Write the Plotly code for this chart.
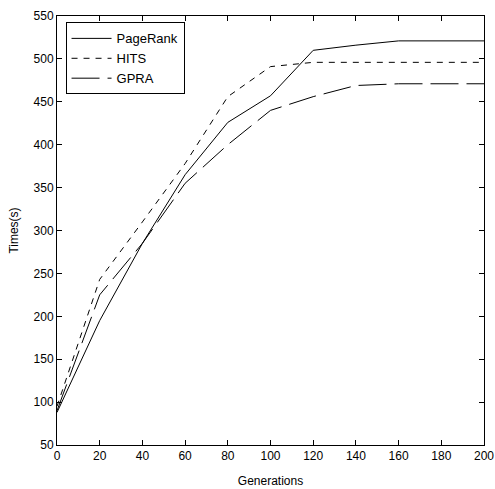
import plotly.graph_objects as go

generations = [0, 20, 40, 60, 80, 100, 120, 140, 160, 180, 200]
pagerank = [88, 195, 285, 365, 426, 457, 510, 516, 521, 521, 521]
hits = [95, 243, 310, 378, 456, 491, 496, 496, 496, 496, 496]
gpra = [90, 225, 285, 355, 400, 440, 456, 469, 471, 471, 471]

x_ticks = [0, 20, 40, 60, 80, 100, 120, 140, 160, 180, 200]
y_ticks = [50, 100, 150, 200, 250, 300, 350, 400, 450, 500, 550]

fig = go.Figure()
fig.add_trace(go.Scatter(x=generations, y=pagerank, mode="lines", name="PageRank",
                         line=dict(color="black", width=1, dash="solid")))
fig.add_trace(go.Scatter(x=generations, y=hits, mode="lines", name="HITS",
                         line=dict(color="black", width=1, dash="6px,6px")))
fig.add_trace(go.Scatter(x=generations, y=gpra, mode="lines", name="GPRA",
                         line=dict(color="black", width=1, dash="28px,8px")))

axis_common = dict(
    showgrid=False, zeroline=False, showline=True, linecolor="black", linewidth=1,
    mirror="ticks", ticks="inside", ticklen=5, tickcolor="black", automargin=False,
    ticklabeloverflow="allow",
    tickfont=dict(family="Liberation Sans, Arial", size=12, color="black"),
)

fig.update_layout(
    width=495, height=489,
    margin=dict(l=57, r=11, t=16, b=44),
    paper_bgcolor="white", plot_bgcolor="white",
    font=dict(family="Liberation Sans, Arial", size=12, color="black"),
    xaxis=dict(range=[0, 200], tickvals=x_ticks,
               title=dict(text="Generations", font=dict(size=12), standoff=14), **axis_common),
    yaxis=dict(range=[50, 550], tickvals=y_ticks,
               title=dict(text="Times(s)", font=dict(size=12), standoff=12), **axis_common),
    legend=dict(x=0.02, y=0.985, xanchor="left", yanchor="top",
                bordercolor="black", borderwidth=1, bgcolor="white",
                font=dict(size=13), tracegroupgap=0, itemwidth=40),
    showlegend=True,
)

fig.write_html(
    "out.html",
    config={"displayModeBar": False},
    post_script="document.body.style.margin='0';document.body.style.overflow='hidden';",
)
